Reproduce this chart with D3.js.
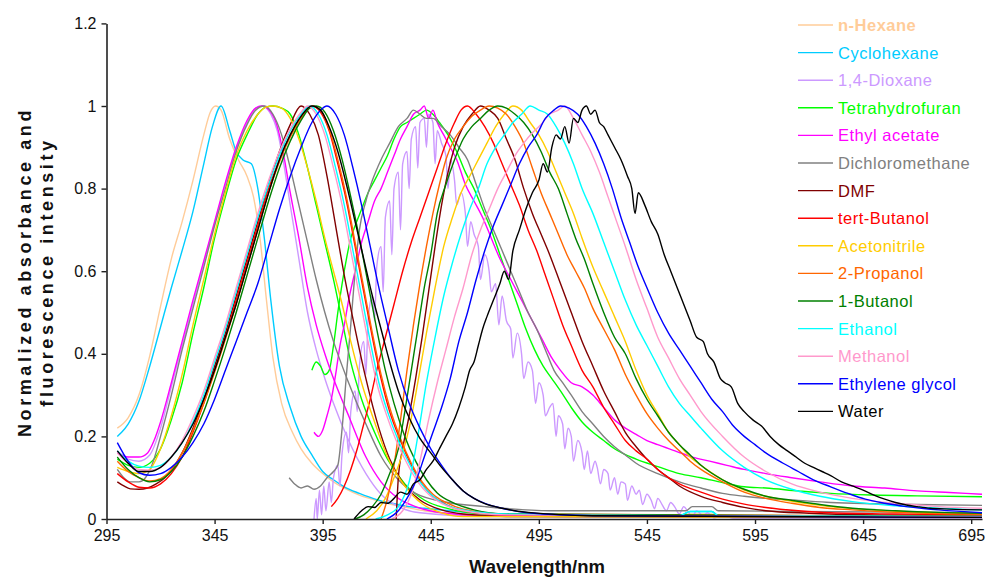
<!DOCTYPE html>
<html><head><meta charset="utf-8">
<script src="https://cdn.jsdelivr.net/npm/d3@7"></script>
<style>
html,body{margin:0;padding:0;background:#fff;}
svg{display:block;font-family:"Liberation Sans",Arial,sans-serif;}
</style></head>
<body>
<svg id="chart" width="985" height="579"></svg>
<script>
// ---------- DATA ----------
const solvents = ["n-Hexane","Cyclohexane","1,4-Dioxane","Tetrahydrofuran","Ethyl acetate","Dichloromethane","DMF","tert-Butanol","Acetonitrile","2-Propanol","1-Butanol","Ethanol","Methanol","Ethylene glycol","Water"];
const colors = ["#FFCC99","#00CCFF","#CC99FF","#00FF00","#FF00FF","#808080","#800000","#FF0000","#FFCC00","#FF6600","#008000","#00FFFF","#FF99CC","#0000FF","#000000"];
const xTicks = [295,345,395,445,495,545,595,645,695];
const yTicks = [0,0.2,0.4,0.6,0.8,1,1.2];

// absorption spectra [wavelength nm, normalized value]
const absHexane = [[300,0.22],[305,0.245],[310,0.3],[315,0.395],[320,0.515],[325,0.63],[330,0.72],[335,0.82],[340,0.93],[343,0.985],[345.5,1],[348,0.99],[352,0.92],[356,0.87],[360,0.83],[363,0.78],[366,0.68],[369,0.53],[372,0.39],[376,0.28],[381,0.21],[385,0.17],[390,0.135],[395,0.11],[400,0.09],[405,0.075],[412,0.058],[420,0.045],[427,0.035],[435,0.027],[442,0.02],[458,0.012],[480,0.007],[560,0.006],[565,0.012],[575,0.012],[578,0.006],[700,0.005]];
const absCyclohexane = [[300,0.2],[302,0.21],[305,0.23],[310,0.285],[315,0.37],[320,0.465],[325,0.56],[330,0.65],[335,0.745],[340,0.86],[344,0.95],[348,1],[352,0.94],[355,0.89],[358,0.87],[362,0.86],[365,0.8],[368,0.68],[371,0.53],[375,0.37],[380,0.27],[385,0.2],[390,0.155],[395,0.115],[400,0.095],[405,0.078],[412,0.062],[420,0.047],[427,0.038],[435,0.03],[442,0.026],[458,0.018],[480,0.01],[560,0.008],[565,0.018],[575,0.018],[578,0.008],[700,0.006]];
const absDioxane = [[300,0.165],[305,0.145],[310,0.14],[315,0.155],[320,0.22],[325,0.32],[330,0.42],[335,0.52],[340,0.62],[345,0.715],[350,0.81],[355,0.895],[360,0.96],[364,0.995],[367,1],[371,0.98],[374,0.94],[377,0.86],[380,0.76],[384,0.63],[388,0.5],[392,0.41],[396,0.34],[400,0.28],[407,0.19],[415,0.11],[422,0.06],[430,0.03],[440,0.015],[470,0.006],[700,0.004]];
const absTHF = [[300,0.145],[305,0.13],[310,0.125],[315,0.135],[320,0.17],[325,0.24],[330,0.33],[335,0.45],[340,0.56],[345,0.68],[350,0.78],[355,0.87],[360,0.93],[365,0.98],[369,0.998],[372,1],[376,0.995],[380,0.98],[384,0.93],[388,0.85],[392,0.76],[396,0.67],[400,0.58],[404,0.48],[408,0.38],[413,0.29],[419,0.21],[425,0.145],[433,0.085],[442,0.046],[453,0.025],[470,0.012],[500,0.008],[700,0.005]];
const absEthylAcetate = [[300,0.16],[305,0.15],[310,0.15],[314,0.16],[317,0.19],[320,0.235],[325,0.33],[330,0.43],[335,0.53],[340,0.625],[345,0.72],[350,0.815],[355,0.9],[360,0.965],[364,0.995],[367,1],[371,0.985],[374,0.95],[377,0.88],[380,0.79],[384,0.68],[388,0.56],[392,0.47],[396,0.4],[400,0.34],[407,0.25],[415,0.15],[422,0.09],[430,0.05],[438,0.03],[450,0.015],[470,0.008],[700,0.005]];
const absDCM = [[300,0.12],[303,0.1],[306,0.09],[310,0.09],[313,0.1],[316,0.13],[320,0.2],[325,0.3],[330,0.41],[335,0.51],[340,0.61],[345,0.71],[350,0.8],[355,0.89],[360,0.955],[364,0.99],[368,1],[372,0.98],[376,0.93],[380,0.85],[384,0.76],[388,0.67],[392,0.58],[396,0.5],[400,0.43],[407,0.33],[415,0.23],[422,0.152],[430,0.095],[438,0.062],[453,0.04],[470,0.03],[500,0.02],[563,0.02],[566,0.03],[575,0.03],[578,0.02],[700,0.015]];
const absDMF = [[300,0.09],[303,0.08],[306,0.073],[310,0.072],[314,0.075],[318,0.085],[322,0.1],[326,0.125],[330,0.16],[335,0.22],[340,0.29],[345,0.37],[350,0.45],[355,0.54],[360,0.63],[365,0.72],[370,0.81],[375,0.89],[380,0.955],[385,1],[389,0.98],[393,0.93],[397,0.83],[401,0.71],[405,0.59],[410,0.46],[415,0.34],[421,0.22],[426,0.145],[432,0.088],[440,0.046],[450,0.022],[460,0.012],[480,0.006],[700,0.004]];
const absTertButanol = [[300,0.11],[305,0.09],[310,0.077],[315,0.075],[320,0.085],[325,0.11],[330,0.15],[335,0.21],[340,0.28],[345,0.36],[350,0.44],[355,0.53],[360,0.62],[365,0.71],[370,0.8],[375,0.87],[380,0.93],[385,0.975],[390,1],[394,0.985],[398,0.94],[402,0.86],[406,0.77],[410,0.66],[414,0.55],[418,0.44],[422,0.34],[426,0.26],[431,0.19],[436,0.13],[441,0.085],[446,0.055],[452,0.035],[460,0.02],[480,0.01],[700,0.006]];
const absAcetonitrile = [[300,0.125],[305,0.115],[310,0.11],[315,0.12],[320,0.17],[325,0.25],[330,0.35],[335,0.47],[340,0.58],[345,0.69],[350,0.79],[355,0.88],[360,0.94],[365,0.98],[369,0.998],[372,1],[376,0.995],[380,0.97],[384,0.92],[388,0.85],[392,0.77],[396,0.68],[400,0.6],[404,0.52],[408,0.43],[413,0.33],[419,0.235],[425,0.15],[433,0.08],[441,0.037],[450,0.015],[460,0.006],[700,0.004]];
const abs2Propanol = [[300,0.14],[305,0.115],[310,0.1],[315,0.092],[320,0.098],[325,0.12],[330,0.16],[335,0.215],[340,0.28],[345,0.355],[350,0.435],[355,0.52],[360,0.61],[365,0.7],[370,0.79],[375,0.865],[380,0.925],[385,0.97],[390,1],[394,0.99],[398,0.945],[402,0.87],[406,0.78],[410,0.67],[414,0.56],[418,0.45],[422,0.35],[426,0.27],[431,0.195],[436,0.135],[441,0.09],[446,0.06],[452,0.04],[460,0.024],[480,0.012],[700,0.007]];
const abs1Butanol = [[300,0.15],[305,0.12],[310,0.1],[315,0.09],[320,0.095],[325,0.115],[330,0.15],[335,0.2],[340,0.26],[345,0.335],[350,0.415],[355,0.5],[360,0.59],[365,0.68],[370,0.77],[375,0.85],[380,0.915],[385,0.965],[389,0.995],[392,1],[396,0.985],[400,0.94],[404,0.87],[408,0.78],[412,0.68],[416,0.57],[420,0.46],[424,0.36],[428,0.28],[433,0.2],[438,0.14],[443,0.095],[448,0.063],[455,0.04],[465,0.022],[480,0.012],[700,0.006]];
const absEthanol = [[300,0.165],[305,0.14],[310,0.128],[315,0.125],[320,0.13],[325,0.15],[330,0.185],[335,0.235],[340,0.3],[345,0.38],[350,0.46],[355,0.55],[360,0.64],[365,0.73],[370,0.81],[375,0.88],[380,0.94],[385,0.98],[389,1],[393,0.98],[397,0.93],[401,0.85],[405,0.76],[409,0.65],[413,0.54],[417,0.43],[421,0.33],[425,0.26],[430,0.19],[435,0.135],[440,0.09],[445,0.06],[450,0.04],[460,0.022],[480,0.012],[560,0.008],[565,0.018],[575,0.018],[578,0.008],[700,0.006]];
const absMethanol = [[300,0.16],[305,0.135],[310,0.12],[315,0.118],[320,0.125],[325,0.15],[330,0.19],[335,0.245],[340,0.31],[345,0.39],[350,0.47],[355,0.56],[360,0.65],[365,0.74],[370,0.82],[375,0.89],[380,0.945],[385,0.985],[388,1],[392,0.98],[396,0.93],[400,0.85],[404,0.76],[408,0.65],[412,0.54],[416,0.43],[420,0.33],[424,0.26],[429,0.19],[434,0.135],[439,0.09],[444,0.06],[450,0.038],[460,0.02],[480,0.01],[700,0.005]];
const absEthyleneGlycol = [[300,0.185],[305,0.14],[310,0.112],[315,0.106],[320,0.11],[325,0.125],[330,0.15],[335,0.185],[340,0.23],[345,0.29],[350,0.36],[355,0.43],[360,0.5],[365,0.57],[370,0.66],[375,0.75],[380,0.83],[385,0.9],[390,0.96],[394,0.99],[397,1],[401,0.98],[405,0.93],[409,0.85],[413,0.76],[417,0.66],[421,0.56],[425,0.47],[430,0.36],[435,0.28],[440,0.22],[445,0.17],[450,0.13],[455,0.095],[460,0.068],[465,0.05],[470,0.038],[478,0.026],[490,0.015],[520,0.008],[700,0.004]];
const absWater = [[300,0.165],[305,0.135],[310,0.115],[315,0.115],[320,0.125],[325,0.15],[330,0.185],[335,0.23],[340,0.29],[345,0.36],[350,0.44],[355,0.52],[360,0.61],[365,0.7],[370,0.79],[375,0.87],[380,0.93],[385,0.975],[390,1],[394,0.99],[398,0.95],[402,0.89],[406,0.81],[410,0.72],[414,0.63],[418,0.54],[422,0.46],[426,0.38],[430,0.31],[435,0.245],[440,0.195],[445,0.16],[450,0.125],[455,0.095],[460,0.068],[465,0.05],[470,0.037],[478,0.026],[490,0.016],[520,0.008],[700,0.004]];

// fluorescence spectra [wavelength nm, normalized value]
const emDioxane = [[391,0],[392,0.05],[392.5,0],[393.5,0.07],[394.5,0.01],[395.5,0.08],[396.5,0.02],[398,0.09],[399,0.04],[400,0.1],[402,0.13],[403,0.08],[404,0.16],[406,0.21],[407,0.16],[408,0.26],[410,0.31],[411,0.26],[412,0.37],[414,0.43],[415,0.35],[416,0.48],[418,0.54],[419,0.48],[420,0.61],[422,0.66],[423,0.55],[424,0.73],[426,0.77],[427,0.64],[428,0.8],[430,0.84],[431,0.7],[432,0.86],[434,0.89],[435,0.8],[436,0.92],[438,0.95],[439,0.85],[440,0.96],[442,0.97],[443,0.9],[444,0.98],[446,0.96],[447,0.86],[448,0.94],[450,0.91],[452,0.88],[453,0.8],[454,0.87],[456,0.82],[457,0.76],[459,0.79],[461,0.74],[462,0.66],[463.5,0.72],[465,0.69],[467,0.66],[468,0.58],[470,0.64],[472,0.6],[473,0.55],[475,0.57],[476.5,0.47],[478,0.54],[480,0.48],[482,0.46],[483,0.39],[485,0.45],[487,0.4],[488,0.34],[490,0.38],[492,0.36],[493.5,0.28],[495,0.33],[497,0.3],[498,0.25],[500,0.27],[501.5,0.28],[503,0.2],[504,0.25],[506,0.23],[507,0.17],[508.5,0.22],[510,0.2],[511,0.14],[513,0.19],[515,0.16],[516,0.12],[517.5,0.165],[519,0.11],[521,0.14],[522,0.125],[523.5,0.085],[525,0.12],[527,0.11],[528,0.07],[530,0.1],[531.5,0.06],[533,0.09],[535,0.085],[536,0.045],[538,0.08],[540,0.06],[541.5,0.07],[543,0.035],[545,0.06],[547,0.045],[548.5,0.025],[550,0.05],[552,0.035],[554,0.02],[556,0.04],[558,0.028],[560,0.012],[562,0.03],[564,0.018],[566,0.006],[568,0.02],[571,0.008],[573,0.015],[576,0.003],[580,0.008],[585,0.002],[700,0.002]];
const emTHF = [[390,0.36],[392,0.38],[394,0.37],[396,0.35],[398,0.36],[400,0.42],[402,0.5],[404,0.57],[406,0.63],[408,0.68],[410,0.71],[413,0.75],[416,0.79],[419,0.82],[422,0.85],[425,0.88],[428,0.92],[431,0.95],[434,0.96],[437,0.97],[440,0.98],[443,0.99],[446,0.98],[449,0.96],[453,0.93],[457,0.89],[461,0.84],[465,0.8],[469,0.75],[473,0.7],[477,0.64],[481,0.58],[485,0.52],[489,0.46],[493,0.41],[497,0.37],[501,0.34],[505,0.31],[510,0.27],[515,0.235],[520,0.21],[525,0.19],[530,0.17],[540,0.145],[550,0.127],[560,0.11],[570,0.1],[580,0.088],[590,0.078],[600,0.075],[615,0.068],[630,0.062],[650,0.058],[670,0.056],[700,0.054]];
const emEthylAcetate = [[391,0.21],[393,0.2],[395,0.215],[397,0.25],[399,0.29],[401,0.35],[403,0.42],[405,0.47],[407,0.53],[410,0.6],[413,0.67],[416,0.72],[419,0.77],[422,0.8],[425,0.84],[428,0.88],[431,0.92],[434,0.95],[437,0.98],[440,0.99],[442,1],[444,0.97],[446,0.99],[448,0.96],[451,0.93],[454,0.9],[457,0.87],[461,0.81],[465,0.77],[469,0.73],[473,0.68],[477,0.63],[481,0.59],[485,0.55],[489,0.51],[493,0.47],[497,0.43],[501,0.39],[505,0.36],[510,0.33],[515,0.32],[520,0.3],[525,0.27],[530,0.24],[535,0.22],[540,0.205],[545,0.19],[550,0.18],[558,0.165],[566,0.15],[574,0.14],[582,0.13],[590,0.12],[600,0.11],[612,0.1],[625,0.09],[640,0.08],[655,0.075],[670,0.068],[685,0.064],[700,0.06]];
const emDCM = [[379.5,0.1],[382,0.085],[385,0.075],[388,0.08],[391,0.072],[394,0.08],[397,0.1],[400,0.115],[402,0.13],[404,0.22],[406,0.35],[408,0.47],[410,0.6],[412,0.7],[415,0.77],[418,0.82],[422,0.87],[426,0.91],[430,0.95],[434,0.97],[437,0.99],[440,0.98],[443,0.97],[446,0.97],[450,0.95],[454,0.93],[458,0.9],[462,0.87],[466,0.81],[470,0.75],[474,0.7],[478,0.65],[482,0.6],[486,0.55],[490,0.5],[494,0.46],[498,0.41],[502,0.36],[506,0.33],[510,0.3],[515,0.26],[520,0.23],[525,0.2],[530,0.175],[535,0.155],[540,0.135],[550,0.11],[560,0.09],[570,0.075],[580,0.062],[590,0.055],[600,0.05],[615,0.045],[630,0.04],[650,0.037],[670,0.035],[700,0.033]];
const emDMF = [[429,0],[430,0.1],[432,0.17],[435,0.25],[438,0.34],[441,0.44],[444,0.55],[447,0.66],[450,0.76],[453,0.84],[456,0.9],[460,0.95],[464,0.98],[468,1],[472,0.99],[476,0.97],[480,0.92],[484,0.87],[488,0.8],[492,0.74],[496,0.69],[500,0.64],[505,0.57],[510,0.5],[515,0.43],[520,0.37],[525,0.31],[530,0.26],[535,0.21],[540,0.175],[545,0.145],[550,0.12],[555,0.1],[560,0.08],[570,0.055],[580,0.04],[590,0.028],[600,0.02],[620,0.014],[650,0.01],[700,0.008]];
const emTertButanol = [[399,0.03],[402,0.05],[405,0.08],[408,0.12],[411,0.17],[414,0.23],[417,0.29],[420,0.36],[424,0.44],[428,0.52],[432,0.6],[436,0.67],[440,0.73],[444,0.79],[448,0.85],[452,0.91],[456,0.96],[459,0.99],[462,1],[466,0.98],[470,0.95],[474,0.91],[478,0.86],[482,0.81],[486,0.76],[490,0.7],[494,0.65],[498,0.59],[502,0.53],[506,0.47],[510,0.42],[515,0.36],[520,0.32],[525,0.27],[530,0.23],[535,0.19],[540,0.165],[545,0.145],[550,0.12],[555,0.1],[560,0.085],[570,0.065],[580,0.048],[590,0.036],[600,0.028],[615,0.02],[630,0.015],[660,0.012],[700,0.01]];
const emAcetonitrile = [[415,0],[420,0.02],[424,0.05],[428,0.1],[432,0.16],[435,0.22],[439,0.33],[443,0.45],[447,0.56],[451,0.66],[455,0.73],[459,0.79],[463,0.83],[467,0.87],[471,0.91],[475,0.95],[479,0.98],[483,1],[487,0.99],[491,0.96],[495,0.93],[499,0.89],[503,0.84],[507,0.79],[511,0.74],[515,0.68],[520,0.61],[525,0.55],[530,0.49],[535,0.43],[540,0.36],[545,0.3],[550,0.255],[555,0.21],[560,0.18],[565,0.15],[570,0.13],[580,0.095],[590,0.07],[600,0.055],[612,0.043],[625,0.033],[640,0.025],[660,0.019],[680,0.015],[700,0.013]];
const em2Propanol = [[422,0],[425,0.05],[428,0.13],[431,0.24],[434,0.36],[437,0.47],[440,0.57],[443,0.66],[446,0.74],[449,0.81],[452,0.87],[456,0.92],[460,0.95],[464,0.975],[468,0.99],[472,1],[476,0.995],[480,0.98],[484,0.95],[488,0.91],[492,0.85],[496,0.79],[500,0.74],[504,0.69],[508,0.64],[512,0.6],[516,0.56],[520,0.51],[525,0.46],[530,0.41],[535,0.35],[540,0.3],[545,0.255],[550,0.22],[555,0.19],[560,0.165],[565,0.14],[570,0.12],[580,0.09],[590,0.065],[600,0.05],[612,0.038],[625,0.028],[640,0.022],[660,0.016],[680,0.013],[700,0.012]];
const em1Butanol = [[410,0],[414,0.01],[418,0.03],[422,0.06],[426,0.11],[430,0.17],[433,0.26],[436,0.36],[439,0.46],[442,0.56],[445,0.64],[448,0.74],[452,0.81],[456,0.87],[460,0.92],[464,0.95],[468,0.97],[472,0.99],[476,1],[480,0.995],[484,0.98],[488,0.96],[492,0.93],[496,0.89],[500,0.84],[504,0.8],[508,0.74],[512,0.68],[516,0.63],[520,0.57],[525,0.5],[530,0.44],[535,0.4],[540,0.34],[545,0.29],[550,0.25],[555,0.21],[560,0.18],[565,0.155],[570,0.13],[580,0.095],[590,0.072],[600,0.055],[612,0.045],[625,0.035],[640,0.026],[660,0.02],[680,0.016],[700,0.014]];
const emEthanol = [[419.5,0],[425,0.01],[430,0.03],[435,0.09],[439,0.2],[443,0.33],[447,0.44],[451,0.54],[455,0.62],[459,0.69],[463,0.75],[467,0.8],[471,0.86],[475,0.9],[479,0.93],[483,0.96],[487,0.98],[491,1],[495,0.99],[499,0.98],[503,0.95],[507,0.91],[511,0.86],[515,0.8],[520,0.74],[525,0.67],[530,0.6],[535,0.53],[540,0.47],[545,0.42],[550,0.37],[555,0.32],[560,0.28],[565,0.25],[570,0.22],[580,0.165],[590,0.125],[600,0.095],[612,0.072],[625,0.055],[640,0.042],[660,0.032],[680,0.026],[700,0.022]];
const emMethanol = [[427,0],[432,0.02],[436,0.06],[440,0.14],[444,0.24],[448,0.33],[452,0.41],[456,0.49],[460,0.56],[464,0.64],[468,0.7],[472,0.75],[476,0.8],[480,0.84],[484,0.88],[488,0.91],[492,0.935],[496,0.955],[500,0.98],[504,0.99],[507,1],[511,0.97],[515,0.93],[519,0.89],[523,0.84],[527,0.78],[531,0.72],[535,0.66],[540,0.58],[545,0.51],[550,0.44],[555,0.39],[560,0.34],[565,0.3],[570,0.26],[580,0.2],[590,0.15],[600,0.115],[612,0.085],[625,0.065],[640,0.05],[660,0.038],[680,0.03],[700,0.026]];
const emEthyleneGlycol = [[424.7,0],[430,0.02],[434,0.05],[438,0.09],[442,0.15],[446,0.21],[450,0.27],[454,0.34],[458,0.43],[462,0.5],[466,0.58],[470,0.65],[474,0.71],[478,0.76],[482,0.81],[486,0.86],[490,0.9],[494,0.93],[498,0.97],[502,0.99],[505,1],[509,0.995],[513,0.98],[517,0.95],[521,0.91],[525,0.86],[529,0.8],[533,0.73],[537,0.67],[541,0.61],[545,0.56],[550,0.5],[555,0.45],[560,0.41],[565,0.37],[570,0.33],[575,0.29],[580,0.26],[585,0.225],[590,0.2],[595,0.18],[600,0.16],[608,0.135],[615,0.115],[622,0.095],[630,0.078],[638,0.062],[646,0.048],[655,0.038],[665,0.03],[680,0.022],[700,0.015]];
const emWater = [[409.5,0],[413,0.02],[416,0.03],[419,0.028],[422,0.04],[425,0.038],[428,0.05],[431,0.065],[434,0.06],[437,0.085],[440,0.095],[443,0.12],[446,0.14],[449,0.17],[452,0.2],[455,0.23],[458,0.27],[461,0.32],[463,0.36],[465,0.38],[467,0.42],[469,0.46],[471,0.49],[474,0.53],[477,0.57],[479,0.6],[481,0.58],[483,0.65],[486,0.7],[489,0.75],[492,0.79],[495,0.82],[497,0.86],[499,0.84],[501,0.9],[503,0.93],[505,0.92],[507,0.95],[509,0.91],[511,0.97],[513,0.96],[515,0.99],[517,1],[519,0.98],[521,0.99],[523,0.96],[525,0.95],[527,0.93],[530,0.9],[533,0.87],[536,0.83],[538,0.8],[539.5,0.74],[541,0.79],[544,0.76],[547,0.72],[550,0.69],[553,0.64],[556,0.6],[559,0.56],[562,0.52],[565,0.48],[568,0.44],[571,0.43],[573,0.4],[576,0.38],[579,0.34],[581,0.33],[584,0.32],[587,0.28],[590,0.26],[594,0.24],[598,0.225],[602,0.2],[606,0.18],[610,0.165],[614,0.15],[618,0.135],[622,0.125],[626,0.115],[630,0.105],[635,0.09],[640,0.08],[645,0.07],[650,0.058],[655,0.048],[660,0.04],[665,0.034],[670,0.03],[676,0.026],[685,0.024],[700,0.022]];

const absorption = [absHexane,absCyclohexane,absDioxane,absTHF,absEthylAcetate,absDCM,absDMF,absTertButanol,absAcetonitrile,abs2Propanol,abs1Butanol,absEthanol,absMethanol,absEthyleneGlycol,absWater];
const emission = [null,null,emDioxane,emTHF,emEthylAcetate,emDCM,emDMF,emTertButanol,emAcetonitrile,em2Propanol,em1Butanol,emEthanol,emMethanol,emEthyleneGlycol,emWater];

// ---------- CHART ----------
const svg = d3.select("#chart");
const x = d3.scaleLinear().domain([295,700]).range([106.5,982]);
const y = d3.scaleLinear().domain([0,1.2]).range([519,23.4]);

const line = d3.line().x(d=>x(d[0])).y(d=>y(d[1])).curve(d3.curveMonotoneX);
const plot = svg.append("g");
solvents.forEach((s,i)=>{
  plot.append("path").datum(absorption[i]).attr("d",line)
    .attr("fill","none").attr("stroke",colors[i]).attr("stroke-width",1.4).attr("stroke-linejoin","round");
  if (emission[i]) plot.append("path").datum(emission[i]).attr("d",line)
    .attr("fill","none").attr("stroke",colors[i]).attr("stroke-width",1.4).attr("stroke-linejoin","round");
});

// axes
const yAxis = svg.append("g").attr("transform","translate(106.5,0)")
  .call(d3.axisLeft(y).tickValues(yTicks).tickSize(5).tickSizeOuter(0).tickPadding(5)
    .tickFormat(d=> (d===0||d===1)? String(d) : d3.format(".1f")(d)));
const xAxis = svg.append("g").attr("transform","translate(0,519)")
  .call(d3.axisBottom(x).tickValues(xTicks).tickSize(5).tickSizeOuter(0).tickPadding(6).tickFormat(d3.format("d")));
[yAxis,xAxis].forEach(a=>{
  a.select(".domain").attr("stroke","#222").attr("stroke-width",1.6);
  a.selectAll(".tick line").attr("stroke","#222").attr("stroke-width",1.4);
  a.selectAll(".tick text").attr("fill","#111").style("font-size","16px").style("font-family","'Liberation Sans',Arial,sans-serif");
});

// axis titles
svg.append("text").attr("x",537).attr("y",573).attr("text-anchor","middle")
  .style("font-size","18.5px").style("font-weight","bold").attr("fill","#111").text("Wavelength/nm");
const yt = svg.append("text").attr("transform","translate(31,272) rotate(-90)").attr("text-anchor","middle")
  .style("font-size","18px").style("font-weight","bold").style("letter-spacing","3.6px").attr("fill","#111");
yt.append("tspan").attr("x",0).attr("y",0).text("Normalized absorbance and");
yt.append("tspan").attr("x",0).attr("y",22).text("fluorescence intensity");

// legend
const leg = svg.append("g");
solvents.forEach((s,i)=>{
  const yy = 25 + i*27.6;
  leg.append("line").attr("x1",798).attr("x2",833).attr("y1",yy).attr("y2",yy)
    .attr("stroke",colors[i]).attr("stroke-width",1.4);
  leg.append("text").attr("x",838).attr("y",yy).attr("dy","0.36em")
    .style("font-size","16.5px").style("letter-spacing","0.5px").style("font-weight", i===0 ? "bold" : "normal")
    .attr("fill",colors[i]).text(s);
});
</script>
</body></html>
